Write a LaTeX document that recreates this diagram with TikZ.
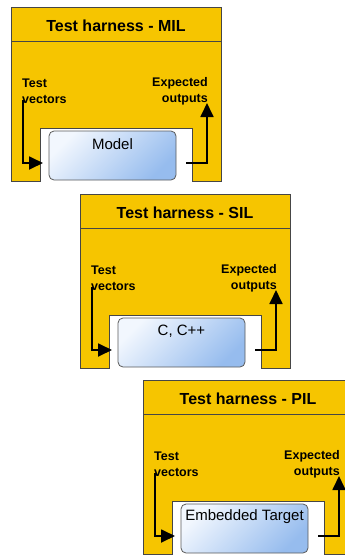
\documentclass[tikz,border=0pt]{standalone}
\usepackage{fontspec}
\setmainfont{Liberation Sans}
\usetikzlibrary{arrows.meta}

\definecolor{harnessyellow}{RGB}{246,197,0}
\definecolor{harnessline}{RGB}{70,70,70}
\definecolor{boxlight}{RGB}{242,247,254}
\definecolor{boxblue}{RGB}{150,188,238}
\definecolor{boxline}{RGB}{90,90,90}

\def\hlist{{11/7/mil/MIL/Model}, {80/194/sil/SIL/{C, C++}}, {143/380/pil/PIL/Embedded Target}}
\tikzstyle{harness}=[draw=harnessline, fill=harnessyellow, line width=0.8pt]
\tikzstyle{titlebar}=[harness, minimum width=210pt, minimum height=34pt, inner sep=0pt, outer sep=0pt, anchor=north west, text height=15pt, text depth=0pt, font=\fontsize{16}{19}\selectfont\bfseries]
\tikzstyle{modelbox}=[draw=boxline, line width=0.8pt, rounded corners=5pt, top color=boxlight, bottom color=boxblue, shading angle=45, minimum width=127pt, minimum height=49pt, inner sep=0pt]
\tikzstyle{boxtext}=[inner sep=0pt, font=\fontsize{15}{18}\selectfont]
\tikzstyle{sig}=[inner sep=0pt, font=\fontsize{12.5}{16}\selectfont\bfseries]
\tikzstyle{flow}=[draw, line width=1.8pt, -{Triangle[length=14pt,width=13pt]}]

\begin{document}
\begin{tikzpicture}[x=1pt, y=-1pt]
  \useasboundingbox (0,0) rectangle (345,555);
  \clip (0,0) rectangle (345,555);
  \foreach \hx/\hy/\name/\lvl/\txt in \hlist {
    \begin{scope}[shift={(\hx,\hy)}]
      \path[harness] (0,34) -- (210,34) -- (210,174) -- (181,174) -- (181,121)
        -- (29,121) -- (29,174) -- (0,174) -- cycle;
      \node[titlebar] (\name-title) at (0,0) {Test harness - \lvl};
      \node[modelbox] (\name-box) at (101.5,148.5) {};
      \node[boxtext] (\name-lbl) at (101.5,137) {\txt};
      \node[sig, anchor=west, align=left] (\name-vec) at (11,84) {Test\\vectors};
      \node[sig, anchor=east, align=right] (\name-exp) at (197,84) {Expected\\outputs};
      \coordinate (\name-src) at (12,93);
      \coordinate (\name-in) at (32,156);
      \coordinate (\name-out) at (175,156);
      \coordinate (\name-snk) at (196,96);
      \path[flow] (\name-src) |- (\name-in);
      \path[flow] (\name-out) -| (\name-snk);
    \end{scope}
  }
\end{tikzpicture}
\end{document}
